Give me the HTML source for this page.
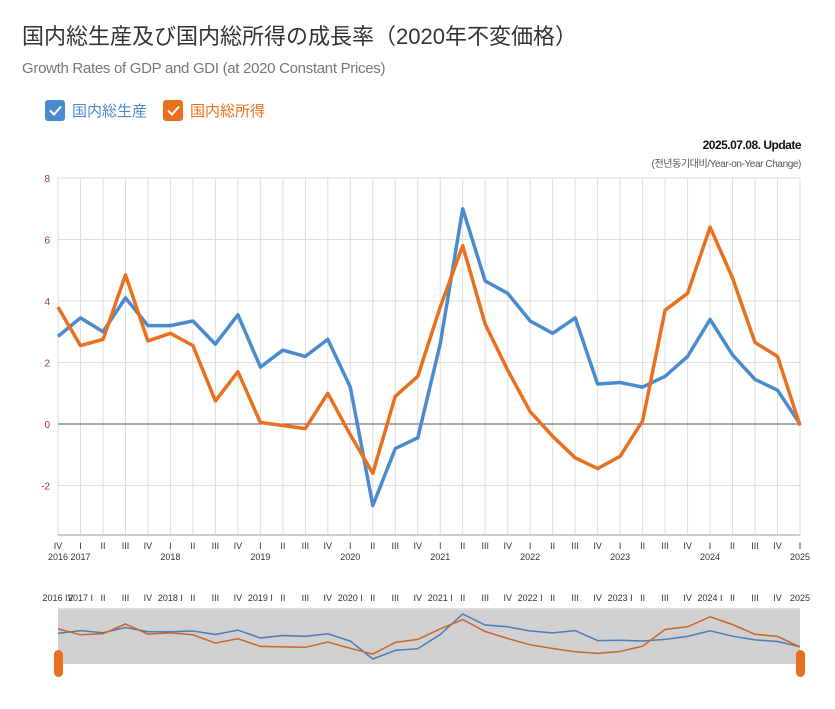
<!DOCTYPE html>
<html><head><meta charset="utf-8">
<style>
body{margin:0;background:#fff;width:835px;height:704px;overflow:hidden;font-family:"Liberation Sans","Noto Sans CJK JP",sans-serif;}
</style></head>
<body>
<svg id="s" width="835" height="704" xmlns="http://www.w3.org/2000/svg" font-family="Liberation Sans, Noto Sans CJK JP, sans-serif">
<text x="22" y="44" font-size="22" fill="#333">国内総生産及び国内総所得の成長率（2020年不変価格）</text>
<text x="22" y="73" font-size="15" fill="#777" letter-spacing="-0.3">Growth Rates of GDP and GDI (at 2020 Constant Prices)</text>
<rect x="45" y="100" width="20" height="21" rx="3" fill="#4a8bd0"/>
<path d="M50 110.5l4 4 7-8" stroke="#fff" stroke-width="2" fill="none"/>
<text x="72" y="116" font-size="15" fill="#4a8bd0">国内総生産</text>
<rect x="163" y="100" width="20" height="21" rx="3" fill="#e8701e"/>
<path d="M168 110.5l4 4 7-8" stroke="#fff" stroke-width="2" fill="none"/>
<text x="190" y="116" font-size="15" fill="#e8701e">国内総所得</text>
<text x="801" y="149" font-size="12" fill="#111" text-anchor="end" font-weight="bold" letter-spacing="-0.5">2025.07.08. Update</text>
<text x="801" y="167" font-size="10" fill="#555" text-anchor="end" letter-spacing="-0.4">(전년동기대비/Year-on-Year Change)</text>
<g id="g"></g>
</svg>
<script>
var B=[2.85,3.45,3.0,4.1,3.2,3.2,3.35,2.6,3.55,1.85,2.4,2.2,2.75,1.2,-2.65,-0.8,-0.45,2.6,7.0,4.65,4.25,3.35,2.95,3.45,1.3,1.35,1.2,1.55,2.2,3.4,2.25,1.45,1.1,0.0];
var O=[3.8,2.55,2.75,4.85,2.7,2.95,2.55,0.75,1.7,0.05,-0.05,-0.15,1.0,-0.35,-1.6,0.9,1.55,3.8,5.8,3.25,1.75,0.4,-0.4,-1.1,-1.45,-1.05,0.1,3.7,4.25,6.4,4.75,2.65,2.2,-0.05];
var x0=58,dx=742/33,h='';
function X(i){return x0+dx*i}
function Y(v){return 424-v*30.75}
for(var i=0;i<34;i++){h+='<line x1="'+X(i)+'" y1="178" x2="'+X(i)+'" y2="535" stroke="#ddd"/>';}
for(var v=-2;v<=8;v+=2){h+='<line x1="58" y1="'+Y(v)+'" x2="800" y2="'+Y(v)+'" stroke="'+(v==0?'#555':'#ddd')+'"/>';
h+='<text x="50" y="'+(Y(v)+4)+'" font-size="10" fill="#a0303a" text-anchor="end">'+v+'</text>';}
h+='<line x1="58" y1="535" x2="800" y2="535" stroke="#ccc" stroke-width="2"/>';
var R=['I','II','III','IV'];
for(var i=0;i<34;i++){var q=(i+3)%4,yr=2016+Math.floor((i+3)/4);
h+='<text x="'+X(i)+'" y="549" font-size="9" fill="#333" text-anchor="middle">'+R[q]+'</text>';
if(q==0||i==0)h+='<text x="'+X(i)+'" y="560" font-size="9" fill="#333" text-anchor="middle">'+yr+'</text>';
var lab=R[q];if(q==0||i==0)lab=yr+' '+lab;
h+='<text x="'+X(i)+'" y="601" font-size="9" fill="#333" text-anchor="middle">'+(i==33?'2025':lab)+'</text>';}
function P(a,f){return a.map(function(v,i){return X(i).toFixed(1)+','+f(v).toFixed(1)}).join(' ')}
h+='<polyline points="'+P(B,Y)+'" fill="none" stroke="#4a8bd0" stroke-width="3.5" stroke-linejoin="round"/>';
h+='<polyline points="'+P(O,Y)+'" fill="none" stroke="#e8701e" stroke-width="3.5" stroke-linejoin="round"/>';
h+='<line x1="58" y1="609" x2="800" y2="609" stroke="#ddd" stroke-width="2"/>';
h+='<rect x="58" y="610" width="742" height="54" fill="#d0d0d0"/>';
function M(v){return 659-(v+2.65)*45/9.65}
h+='<polyline points="'+P(B,M)+'" fill="none" stroke="#4a7db5" stroke-width="1.5"/>';
h+='<polyline points="'+P(O,M)+'" fill="none" stroke="#c8652a" stroke-width="1.5"/>';
h+='<rect x="54" y="650" width="9" height="27" rx="4.5" fill="#e8701e"/>';
h+='<rect x="796" y="650" width="9" height="27" rx="4.5" fill="#e8701e"/>';
document.getElementById('g').innerHTML=h;
</script>
</body></html>
